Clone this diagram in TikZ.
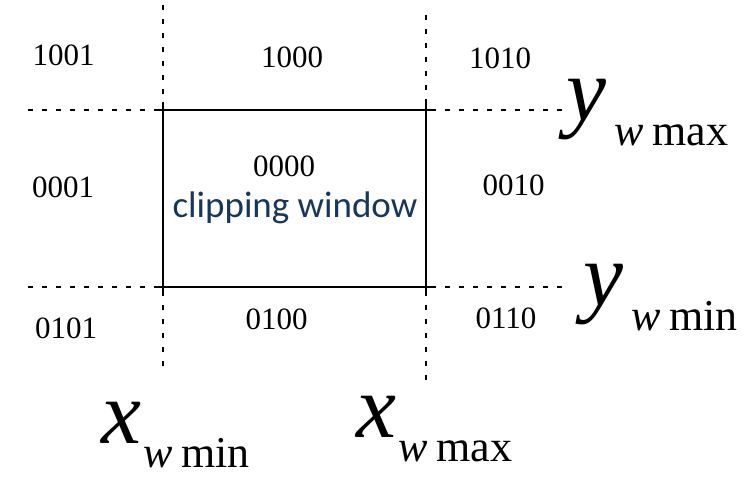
\documentclass[tikz,border=0pt]{standalone}
\usepackage{fontspec}
\setmainfont{Liberation Serif}
\newfontfamily\carlitofont{Carlito}
\definecolor{navytext}{RGB}{23,54,93}
\tikzset{
  code/.style={inner sep=0pt, font=\fontsize{31}{31}\selectfont},
  dashline/.style={line width=2pt, dash pattern=on 5pt off 9pt},
  winline/.style={line width=2.4pt},
  bigmath/.style={inner sep=0pt, anchor=base west}
}
\newcommand{\bigsym}[1]{{\fontsize{90}{90}\selectfont\itshape #1}}
\newcommand{\subtxt}[1]{\raisebox{-24.5pt}{\fontsize{44}{44}\selectfont\itshape w\hspace{9pt}\upshape #1}}
\begin{document}
\begin{tikzpicture}[x=1pt,y=-1pt]
\useasboundingbox (0,0) rectangle (755,482);
% corners of window
\coordinate (tl) at (163,110);
\coordinate (tr) at (426,110);
\coordinate (bl) at (163,287);
\coordinate (br) at (426,287);
% free ends of dashed lines
\coordinate (lt) at (163,5);
\coordinate (lb) at (163,366);
\coordinate (rt) at (426,15);
\coordinate (rb) at (426,380);
\coordinate (tle) at (28,110);
\coordinate (tre) at (562,110);
\coordinate (ble) at (28,287);
\coordinate (bre) at (562,287);
\draw[dashline] (lt) -- (tl);
\draw[dashline] (lb) -- (bl);
\draw[dashline] (rt) -- (tr);
\draw[dashline] (rb) -- (br);
\draw[dashline] (tle) -- (tl);
\draw[dashline] (tre) -- (tr);
\draw[dashline] (ble) -- (bl);
\draw[dashline] (bre) -- (br);
% window edges, each running a little past the corners
\draw[winline] ([xshift=-8pt]tl) -- ([xshift=8pt]tr);
\draw[winline] ([xshift=-8pt]bl) -- ([xshift=8pt]br);
\draw[winline] ([yshift=8pt]tl) -- ([yshift=-8pt]bl);
\draw[winline] ([yshift=8pt]tr) -- ([yshift=-8pt]br);
% region codes
\node[code] (c1001) at (63.5,55) {1001};
\node[code] (c1000) at (292,57) {1000};
\node[code] (c1010) at (500,58.5) {1010};
\node[code] (c0001) at (63,187) {0001};
\node[code] (c0000) at (284,166) {0000};
\node[code] (c0010) at (513.5,185) {0010};
\node[code] (c0101) at (66,328) {0101};
\node[code] (c0100) at (276.5,319) {0100};
\node[code] (c0110) at (506,318.5) {0110};
\node[inner sep=0pt, anchor=base, text=navytext, font=\carlitofont\fontsize{37}{37}\selectfont] (clip) at (295,217) {clipping window};
% boundary labels
\node[bigmath] (xmin) at (101,443) {\bigsym{x}\hspace{2pt}\subtxt{min}};
\node[bigmath] (xmax) at (356,437) {\bigsym{x}\hspace{2pt}\subtxt{max}};
\node[bigmath] (ymax) at (566,120.5) {\bigsym{y}\hspace{8pt}\subtxt{max}};
\node[bigmath] (ymin) at (583,305.5) {\bigsym{y}\hspace{8pt}\subtxt{min}};
\end{tikzpicture}
\end{document}
